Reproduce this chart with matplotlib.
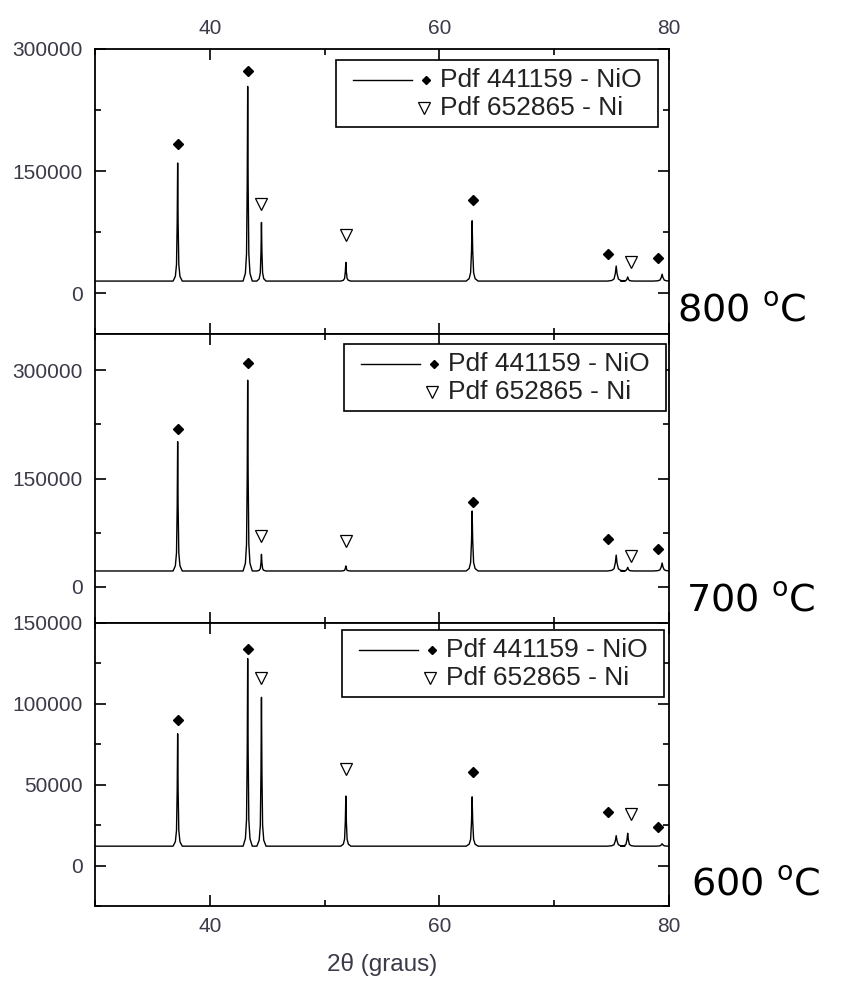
import numpy as np
import matplotlib.pyplot as plt
from matplotlib.patches import Rectangle
from matplotlib.lines import Line2D
from matplotlib.ticker import MultipleLocator

plt.rcParams['font.family'] = ['Liberation Sans', 'DejaVu Sans']

# diffraction peaks (2theta, degrees) and apex intensities
peak_pos = [37.2, 43.3, 44.5, 51.85, 62.85, 75.4, 76.4, 79.4]
peak_wid = [1.0, 1.0, 1.0, 1.1, 1.3, 1.9, 1.5, 1.9]  # relative widths
peaks_800 = [160000, 254000, 87000, 38000, 89000, 33500, 20000, 23500]
peaks_700 = [201000, 286000, 45000, 29000, 105000, 44000, 27000, 33000]
peaks_600 = [81500, 128000, 104000, 43000, 42500, 18500, 20000, 13500]
baselines = [15000, 22000, 12000]

# peak profile (offset in degrees, fraction of height)
prof_dx = [-0.4, -0.2, -0.1, -0.04, 0.0, 0.04, 0.1, 0.2, 0.4]
prof_fr = [0.0, 0.04, 0.14, 0.5, 1.0, 0.5, 0.14, 0.04, 0.0]

# phase markers
nio_x = [37.2, 43.3, 62.9, 74.7, 79.0]
nio_800 = [183000, 273000, 114000, 48000, 43000]
nio_700 = [219000, 310000, 118000, 66000, 52000]
nio_600 = [90000, 134000, 58000, 33000, 24000]
ni_x = [44.5, 51.85, 76.7]
ni_800 = [110000, 71000, 38000]
ni_700 = [70000, 63000, 43000]
ni_600 = [116000, 60000, 32000]

temps = ['800', '700', '600']
ylims = [(-50000, 300000), (-50000, 350000), (-25000, 150000)]
ymajor = [150000, 150000, 50000]
legend_text = ['Pdf 441159 - NiO', 'Pdf 652865 - Ni']

W, H = 843, 985
fig = plt.figure(figsize=(W / 100, H / 100), dpi=100)

# axes boxes in pixels: (top, bottom)
boxes = [(49, 334), (334, 623), (623, 906)]
ax_l, ax_r = 95, 669
leg_box = [(336, 60), (344, 344), (342, 630)]
temp_x = [677, 686, 691]
temp_y = [312, 602, 886]

peaks_all = [peaks_800, peaks_700, peaks_600]
nio_all = [nio_800, nio_700, nio_600]
ni_all = [ni_800, ni_700, ni_600]


def fx(px):
    return px / W


def fy(py):
    return 1 - py / H


tick_color = '#3a3a48'
for i in range(3):
    top, bot = boxes[i]
    ax = fig.add_axes([fx(ax_l), fy(bot), (ax_r - ax_l) / W, (bot - top) / H])

    base = baselines[i]
    xs = [30.0]
    ys = [base]
    for p, w, h in zip(peak_pos, peak_wid, peaks_all[i]):
        for dx, fr in zip(prof_dx, prof_fr):
            xs.append(p + dx * w)
            ys.append(base + fr * (h - base))
    xs.append(80.0)
    ys.append(base)
    ax.plot(xs, ys, color='black', lw=1.0)

    ax.plot(nio_x, nio_all[i], linestyle='none', marker='D', ms=4.6,
            color='black')
    ax.plot(ni_x, ni_all[i], linestyle='none', marker='v', ms=9,
            mfc='white', mec='black', mew=0.9)

    ax.set_xlim(30, 80)
    ax.set_ylim(*ylims[i])
    ax.xaxis.set_major_locator(MultipleLocator(20))
    ax.xaxis.set_minor_locator(MultipleLocator(10))
    ax.yaxis.set_major_locator(MultipleLocator(ymajor[i]))
    ax.yaxis.set_minor_locator(MultipleLocator(ymajor[i] / 2))
    ax.tick_params(which='both', direction='in', top=True, right=True,
                   width=1.2, labelsize=15, labelcolor=tick_color)
    ax.tick_params(which='major', length=8)
    ax.tick_params(which='minor', length=4.5)
    ax.tick_params(axis='y', pad=9)
    ax.tick_params(axis='x', pad=8)
    ax.tick_params(axis='x', labelbottom=(i == 2), labeltop=(i == 0))
    for s in ax.spines.values():
        s.set_linewidth(1.3)

    # legend box
    lx, ly = leg_box[i]
    fig.add_artist(Rectangle((fx(lx), fy(ly + 67)), 322 / W, 67 / H,
                             transform=fig.transFigure, fill=True,
                             facecolor='white', edgecolor='black', lw=1.2))
    r1, r2 = ly + 20, ly + 48
    fig.add_artist(Line2D([fx(lx + 17), fx(lx + 76)], [fy(r1), fy(r1)],
                          transform=fig.transFigure, color='black', lw=1.0))
    fig.add_artist(Line2D([fx(lx + 90)], [fy(r1)], transform=fig.transFigure,
                          marker='D', ms=4.2, color='black', linestyle='none'))
    fig.add_artist(Line2D([fx(lx + 88)], [fy(r2)], transform=fig.transFigure,
                          marker='v', ms=8.5, mfc='white', mec='black',
                          mew=0.9, linestyle='none'))
    fig.text(fx(lx + 104), fy(r1), legend_text[0], fontsize=19,
             va='center', ha='left', color='#222222')
    fig.text(fx(lx + 104), fy(r2), legend_text[1], fontsize=19,
             va='center', ha='left', color='#222222')

    fig.text(fx(temp_x[i]), fy(temp_y[i]), temps[i] + r' $^{\mathrm{o}}$C',
             fontsize=27.5, family='DejaVu Sans', va='center', ha='left',
             color='black')

fig.text(fx(382), fy(965), '2θ (graus)', fontsize=17.5, ha='center',
         va='center', color=tick_color)

fig.savefig('out.png', dpi=100)
